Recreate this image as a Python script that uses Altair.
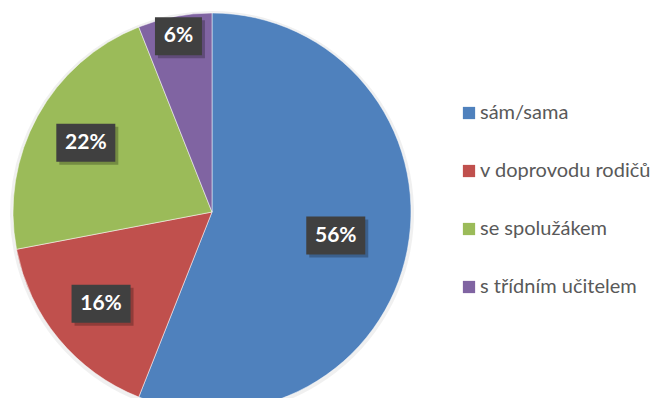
import altair as alt
import pandas as pd

categories = ["sám/sama", "v doprovodu rodičů", "se spolužákem", "s třídním učitelem"]
values = [56, 16, 22, 6]
colors = ["#4F81BD", "#C0504D", "#9BBB59", "#8064A2"]

df = pd.DataFrame({
    "cat": categories,
    "value": values,
    "idx": list(range(len(categories))),
})

CX, CY, R = 204, 204, 199

base = alt.Chart(df)

color = alt.Color(
    "cat:N",
    scale=alt.Scale(domain=categories, range=colors),
    sort=categories,
    legend=alt.Legend(
        title=None,
        orient="none",
        legendX=451,
        legendY=95,
        symbolType="square",
        symbolSize=150,
        symbolStrokeWidth=0,
        labelFont="Lato",
        labelFontSize=20,
        labelColor="#595959",
        labelOffset=1,
        rowPadding=38,
        padding=0,
        labelLimit=300,
    ),
)

shadow = base.mark_arc(radius=R + 3, color="#000000", opacity=0.06).encode(
    theta=alt.Theta("value:Q", stack=True),
    order=alt.Order("idx:Q"),
    x=alt.value(CX),
    y=alt.value(CY + 1),
)

pie = base.mark_arc(radius=R, stroke="#ffffff", strokeWidth=0.5).encode(
    theta=alt.Theta("value:Q", stack=True),
    color=color,
    order=alt.Order("idx:Q"),
    x=alt.value(CX),
    y=alt.value(CY),
)

lab = (
    base.transform_window(cum="sum(value)", sort=[alt.SortField("idx")])
    .transform_joinaggregate(total="sum(value)")
    .transform_calculate(
        mid="(datum.cum - datum.value / 2) / datum.total",
        label="format(datum.value / datum.total * 100, '.0f') + '%'",
    )
    .transform_calculate(
        lr="datum.value / datum.total < 0.1 ? 179 : (datum.value / datum.total > 0.5 ? 126 : 144)",
    )
    .transform_calculate(
        lx=f"{CX} + datum.lr * sin(2 * PI * datum.mid)",
        ly=f"{CY} - datum.lr * cos(2 * PI * datum.mid)",
        hw="11.5 + 6 * length(datum.label)",
    )
    .transform_calculate(
        x1="datum.lx - datum.hw",
        x2="datum.lx + datum.hw",
        y1="datum.ly - 19",
        y2="datum.ly + 19",
        sx1="datum.lx - datum.hw + 3",
        sx2="datum.lx + datum.hw + 3",
        sy1="datum.ly - 19 + 3",
        sy2="datum.ly + 19 + 3",
    )
)

box_shadow = lab.mark_rect(color="#000000", opacity=0.25).encode(
    x=alt.X("sx1:Q", scale=None),
    x2="sx2:Q",
    y=alt.Y("sy1:Q", scale=None),
    y2="sy2:Q",
)

box = lab.mark_rect(color="#404040").encode(
    x=alt.X("x1:Q", scale=None),
    x2="x2:Q",
    y=alt.Y("y1:Q", scale=None),
    y2="y2:Q",
)

text = lab.mark_text(
    font="Lato", fontSize=21, fontWeight="bold", color="#ffffff", baseline="middle", align="center"
).encode(
    x=alt.X("lx:Q", scale=None),
    y=alt.Y("ly:Q", scale=None),
    text="label:N",
)

chart = (
    alt.layer(shadow, pie, box_shadow, box, text)
    .properties(width=647, height=390, padding=0, autosize=alt.AutoSizeParams(type="none"))
    .configure_view(stroke=None)
)

chart.save("out.html", embed_options={"renderer": "svg", "actions": False})
